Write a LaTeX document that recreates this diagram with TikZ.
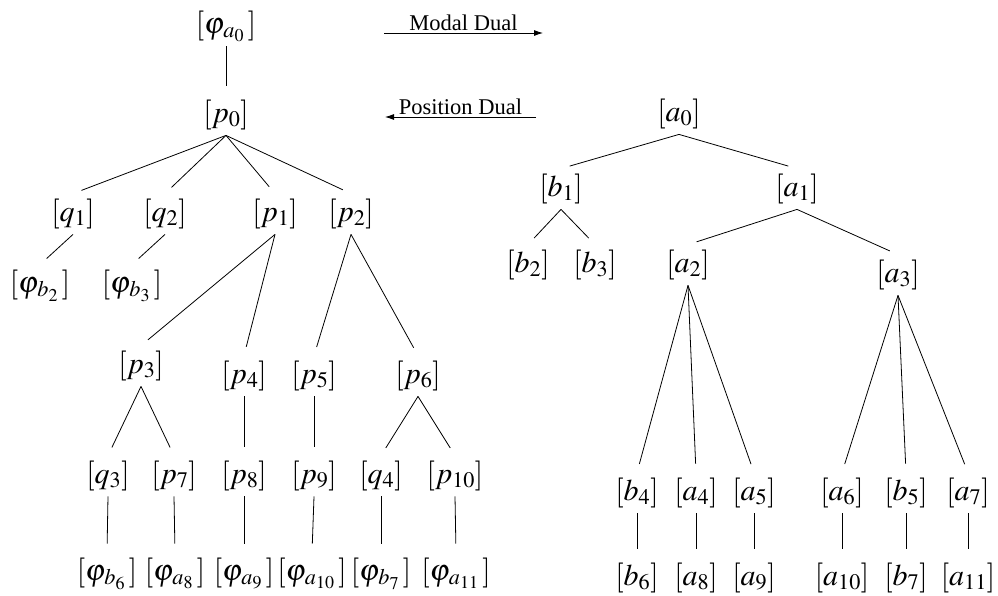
\documentclass[tikz,border=0pt]{standalone}
\usepackage{mathptmx}
\usepackage{fontspec}
\setmainfont{Liberation Serif}
\usepackage{tikz}
\usetikzlibrary{arrows.meta}

\tikzset{
  lbl/.style={font=\fontsize{30}{34}\selectfont, text height=21pt, text depth=7pt, inner ysep=6pt, inner xsep=0pt},
  branch/.style={shorten >=9pt},
  dualtxt/.style={font=\fontsize{22.5}{26}\selectfont, inner sep=2pt}
}
\newcommand{\phisub}[1]{\varphi_{\mkern1mu#1}\mkern2mu}

\begin{document}
\begin{tikzpicture}[x=1pt, y=-1pt, line width=0.8pt, >={Latex[length=9pt,width=6pt]}]
     \useasboundingbox (0,0) rectangle (998,595);

     \node[lbl] (phiA0) at (226, 26) {$[\phisub{a_0}]$};
     \node[lbl] (p0) at (226, 115) {$[p_0]$};
     \node[lbl] (q1) at (73, 214) {$[q_1]$};
     \node[lbl] (q2) at (165, 214) {$[q_2]$};
     \node[lbl] (p1) at (275, 214) {$[p_1]$};
     \node[lbl] (p2) at (351, 214) {$[p_2]$};
     \node[lbl] (phiB2) at (40, 285) {$[\phisub{b_2}]$};
     \node[lbl] (phiB3) at (132, 285) {$[\phisub{b_3}]$};
     \node[lbl] (p3) at (141, 366) {$[p_3]$};
     \node[lbl] (p4) at (244, 376) {$[p_4]$};
     \node[lbl] (p5) at (314, 376) {$[p_5]$};
     \node[lbl] (p6) at (418, 376) {$[p_6]$};
     \node[lbl] (q3) at (108, 476) {$[q_3]$};
     \node[lbl] (p7) at (174, 476) {$[p_7]$};
     \node[lbl] (p8) at (244, 476) {$[p_8]$};
     \node[lbl] (p9) at (314, 476) {$[p_9]$};
     \node[lbl] (q4) at (381, 476) {$[q_4]$};
     \node[lbl] (p10) at (455, 476) {$[p_{10}]$};
     \node[lbl] (phiB6) at (107, 573) {$[\phisub{b_6}]$};
     \node[lbl] (phiA8) at (175, 573) {$[\phisub{a_8}]$};
     \node[lbl] (phiA9) at (244, 573) {$[\phisub{a_9}]$};
     \node[lbl] (phiA10) at (312, 573) {$[\phisub{a_{10}}]$};
     \node[lbl] (phiB7) at (381, 573) {$[\phisub{b_7}]$};
     \node[lbl] (phiA11) at (456, 573) {$[\phisub{a_{11}}]$};

     \node[lbl] (a0) at (679, 114) {$[a_0]$};
     \node[lbl] (b1) at (561, 189) {$[b_1]$};
     \node[lbl] (a1) at (797, 189) {$[a_1]$};
     \node[lbl] (b2) at (528, 265) {$[b_2]$};
     \node[lbl] (b3) at (595, 265) {$[b_3]$};
     \node[lbl] (a2) at (688, 265) {$[a_2]$};
     \node[lbl] (a3) at (898, 275) {$[a_3]$};
     \node[lbl] (b4) at (637, 493) {$[b_4]$};
     \node[lbl] (a4) at (696, 493) {$[a_4]$};
     \node[lbl] (a5) at (754, 493) {$[a_5]$};
     \node[lbl] (a6) at (842, 493) {$[a_6]$};
     \node[lbl] (b5) at (906, 493) {$[b_5]$};
     \node[lbl] (a7) at (968, 493) {$[a_7]$};
     \node[lbl] (b6) at (637, 578) {$[b_6]$};
     \node[lbl] (a8) at (696, 578) {$[a_8]$};
     \node[lbl] (a9) at (754, 578) {$[a_9]$};
     \node[lbl] (a10) at (842, 578) {$[a_{10}]$};
     \node[lbl] (b7) at (906, 578) {$[b_7]$};
     \node[lbl] (a11) at (968, 578) {$[a_{11}]$};

     \foreach \u/\v in {phiA0/p0, p0/q1, p0/q2, p0/p1, p0/p2, q1/phiB2, q2/phiB3,
                        p1/p3, p1/p4, p2/p5, p2/p6, p3/q3, p3/p7, p4/p8, p5/p9,
                        p6/q4, p6/p10, q3/phiB6, p7/phiA8, p8/phiA9, p9/phiA10,
                        q4/phiB7, p10/phiA11,
                        a0/b1, a0/a1, b1/b2, b1/b3, a1/a2, a1/a3,
                        a2/b4, a2/a4, a2/a5, a3/a6, a3/b5, a3/a7,
                        b4/b6, a4/a8, a5/a9, a6/a10, b5/b7, a7/a11}
       \draw[branch] (\u.south) -- (\v.north);

     \coordinate (modalL) at (384, 33);
     \coordinate (modalR) at (543, 33);
     \draw[->] (modalL) -- (modalR) node[midway, above, dualtxt] {Modal Dual};

     \coordinate (posR) at (536, 117);
     \coordinate (posL) at (385, 117);
     \draw[->] (posR) -- (posL) node[midway, above, dualtxt] {Position Dual};
\end{tikzpicture}
\end{document}
